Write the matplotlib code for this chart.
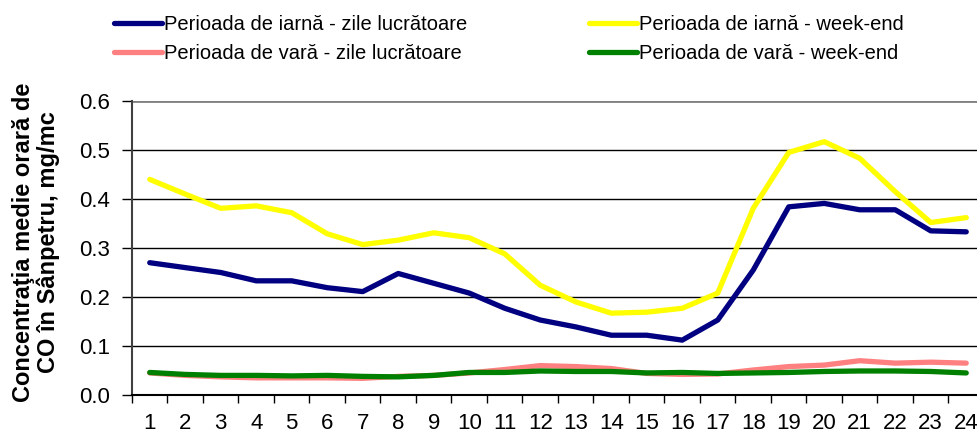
import numpy as np
import matplotlib.pyplot as plt
from matplotlib.ticker import FixedLocator

ore = list(range(1, 25))
iarna_lucru = [0.270, 0.260, 0.250, 0.233, 0.233, 0.219, 0.211, 0.248, 0.228, 0.208, 0.177, 0.153,
               0.139, 0.122, 0.122, 0.112, 0.153, 0.255, 0.384, 0.391, 0.378, 0.378, 0.335, 0.333]
iarna_weekend = [0.440, 0.410, 0.381, 0.386, 0.372, 0.329, 0.307, 0.316, 0.331, 0.321, 0.288, 0.224,
                 0.190, 0.167, 0.169, 0.177, 0.208, 0.381, 0.495, 0.517, 0.483, 0.415, 0.352, 0.362]
vara_lucru = [0.045, 0.040, 0.037, 0.035, 0.035, 0.035, 0.034, 0.038, 0.040, 0.045, 0.052, 0.060,
              0.058, 0.054, 0.044, 0.042, 0.043, 0.051, 0.058, 0.061, 0.070, 0.065, 0.067, 0.065]
vara_weekend = [0.046, 0.042, 0.040, 0.040, 0.039, 0.040, 0.038, 0.037, 0.040, 0.046, 0.046, 0.049,
                0.048, 0.048, 0.045, 0.046, 0.044, 0.045, 0.046, 0.048, 0.049, 0.049, 0.048, 0.045]

serii = [
    ("Perioada de iarnă - zile lucrătoare", iarna_lucru, "#000080"),
    ("Perioada de iarnă - week-end", iarna_weekend, "#FFFF00"),
    ("Perioada de vară - zile lucrătoare", vara_lucru, "#FF8080"),
    ("Perioada de vară - week-end", vara_weekend, "#008000"),
]

plt.rcParams['font.family'] = ['Liberation Sans', 'DejaVu Sans']

fig = plt.figure(figsize=(9.78, 4.33), dpi=100)
W, H = 978, 433
ax = fig.add_axes([132 / W, 1 - 395 / H, (984 - 132) / W, (395 - 101) / H])

linii = []
for nume, val, cul in serii:
    l, = ax.plot(ore, val, color=cul, lw=3.8, solid_capstyle='round', solid_joinstyle='round', label=nume)
    linii.append(l)

ax.set_xlim(0.5, 24.5)
ax.set_ylim(0, 0.6)
ax.set_yticks(np.arange(0, 0.61, 0.1))
ax.set_yticklabels([f"{v:.1f}" for v in np.arange(0, 0.61, 0.1)])
ax.set_xticks(ore)
ax.xaxis.set_minor_locator(FixedLocator(np.arange(0.5, 25, 1)))
ax.tick_params(axis='x', which='major', length=0, labelsize=16, pad=13)
ax.tick_params(axis='x', which='minor', length=6, width=1, direction='out')
ax.tick_params(axis='y', length=7, width=1, labelsize=16, pad=9)

for v in [0.1, 0.2, 0.3, 0.4, 0.5]:
    ax.axhline(v, color='black', lw=1, zorder=0)
ax.axhline(0.6, color='#808080', lw=2, zorder=0)

ax.spines['top'].set_visible(False)
ax.spines['right'].set_visible(False)
ax.spines['left'].set_color('#404040')
ax.spines['left'].set_linewidth(1.5)
ax.spines['bottom'].set_linewidth(1.5)

fig.text(36 / W, 1 - 242 / H, "Concentraţia medie orară de\nCO în Sânpetru, mg/mc",
         rotation=90, ha='center', va='center', fontsize=17, fontweight='bold', linespacing=1.1)

ordine = [0, 2, 1, 3]
leg = fig.legend(handles=[linii[i] for i in ordine],
                 labels=[serii[i][0] for i in ordine],
                 loc='upper left', bbox_to_anchor=(96 / W, 1 + 3 / H), ncol=2, frameon=False,
                 fontsize=14.5, handlelength=2.4, handletextpad=0.1, columnspacing=6.0,
                 labelspacing=0.5)

fig.savefig("out.png", dpi=100)
